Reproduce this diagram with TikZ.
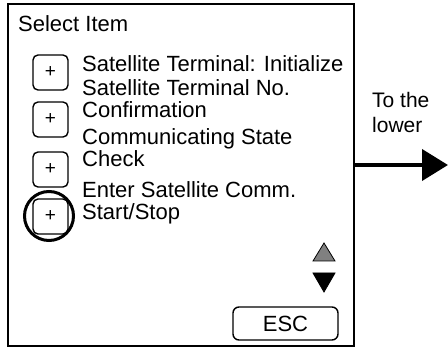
\documentclass[tikz,border=0pt]{standalone}
\usepackage{fontspec}
\setmainfont{Liberation Sans}
\usetikzlibrary{arrows.meta}

\begin{document}
\begin{tikzpicture}[x=1pt,y=-1pt,>={Triangle[length=26pt,width=31pt]},
                    every node/.style={font=\fontsize{22}{22}\selectfont},
                    plusbox/.style={draw,line width=1.4pt,rounded corners=5pt,
                      minimum width=35pt,minimum height=35pt,inner sep=0pt,
                      font=\fontsize{19}{19}\selectfont},
                    itemtext/.style={anchor=base west,align=left,inner sep=0pt}]
  \useasboundingbox (0,0) rectangle (448,352);

  \node[draw,line width=2pt,minimum width=346pt,minimum height=342pt,inner sep=0pt]
        (screen) at (181,175) {};
  \node[itemtext] (title) at (18,32) {Select Item};

  \node[plusbox] (plus1) at (50.5,72.5)  {+};
  \node[plusbox] (plus2) at (50.5,119.5) {+};
  \node[plusbox] (plus3) at (50.5,169.5) {+};
  \node[plusbox] (plus4) at (50.5,216.5) {+};
  \node[draw,circle,line width=3pt,minimum size=49pt,inner sep=0pt] (hilite) at (49,216) {};

  % base of a two-line item is its last line
  \node[itemtext] (item1) at (82,72)  {Satellite Terminal: Initialize};
  \node[itemtext] (item2) at (82,118) {Satellite Terminal No.\\Confirmation};
  \node[itemtext] (item3) at (82,167) {Communicating State\\Check};
  \node[itemtext] (item4) at (82,220) {Enter Satellite Comm.\\Start/Stop};

  % scroll marks
  \draw[fill=gray,line width=0.8pt] (313,261) -- (335,261) -- (324,243) -- cycle;
  \draw[fill=black,line width=0.8pt] (313,273) -- (335,273) -- (324,292) -- cycle;

  \node[draw,line width=1.4pt,rounded corners=6pt,minimum width=105pt,
        minimum height=33pt,inner sep=0pt] (esc) at (285.5,323.5) {ESC};

  \coordinate (tip) at (448,165);
  \draw[->,line width=4pt] (screen.east |- tip) -- (tip);
  \node[itemtext,font=\fontsize{21}{25}\selectfont] (note) at (372,133) {To the\\lower};
\end{tikzpicture}
\end{document}
